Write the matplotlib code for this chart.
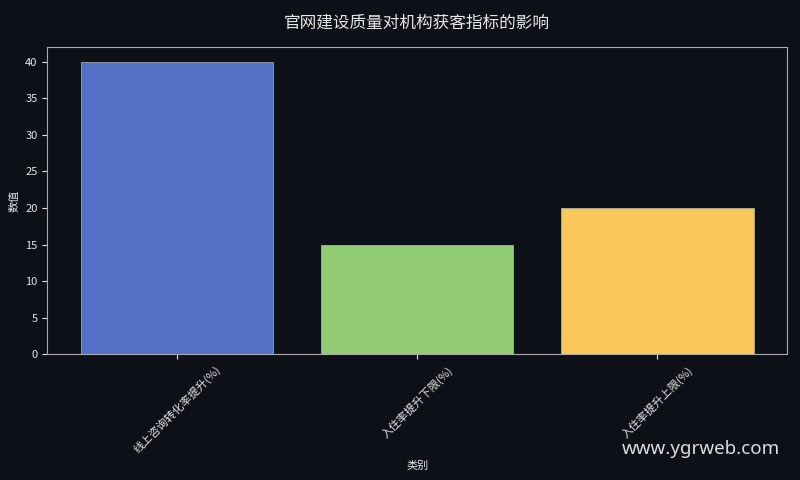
import matplotlib
matplotlib.use("Agg")
import matplotlib.pyplot as plt

plt.rcParams['font.family'] = ['Noto Sans CJK SC', 'DejaVu Sans']

categories = ["线上咨询转化率提升(%)", "入住率提升下限(%)", "入住率提升上限(%)"]
values = [40, 15, 20]
colors = ["#5470c6", "#91cc75", "#fac858"]

bg = "#0d1017"
fg = "#e6e6e6"

fig, ax = plt.subplots(figsize=(8, 4.8), dpi=100, facecolor=bg)
ax.set_facecolor(bg)
ax.bar(categories, values, color=colors, width=0.8, edgecolor="#d0d0d0", linewidth=0.4)

ax.set_title("官网建设质量对机构获客指标的影响", color=fg, fontsize=12, pad=14)
ax.set_xlabel("类别", color=fg, fontsize=8)
ax.set_ylabel("数值", color=fg, fontsize=8)
ax.tick_params(colors=fg, labelsize=8)
ax.tick_params(axis="x", labelrotation=45)
for lbl in ax.get_xticklabels():
    lbl.set_ha("center")
for s in ax.spines.values():
    s.set_color("#aaaaaa")

fig.text(0.975, 0.045, "www.ygrweb.com", color="#dddddd", fontsize=13.5,
         ha="right", va="bottom", family=["Noto Sans", "DejaVu Sans"])

fig.subplots_adjust(left=0.059, right=0.984, top=0.902, bottom=0.262)
fig.savefig("out.png", facecolor=fig.get_facecolor())
